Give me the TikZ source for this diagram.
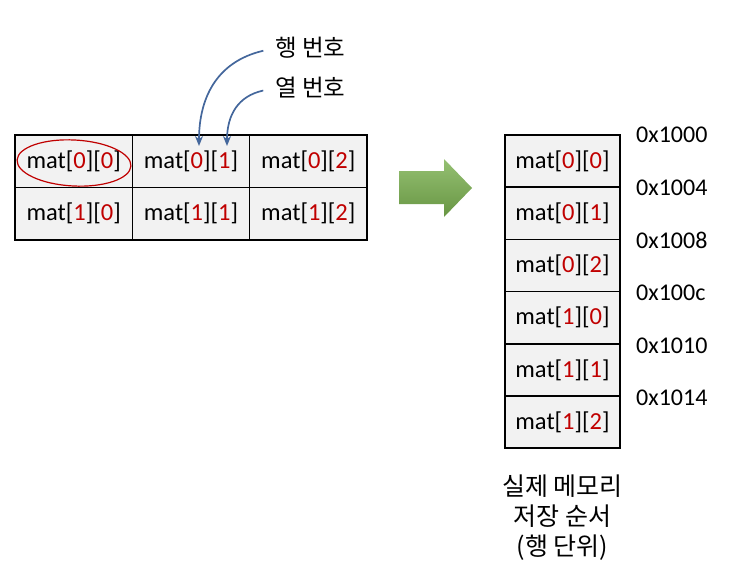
\documentclass[tikz,border=0pt]{standalone}
\usepackage{fontspec}
\setmainfont{Carlito}
\newfontfamily\kr{Noto Sans CJK KR}
\usetikzlibrary{arrows.meta,positioning}
\definecolor{idxred}{HTML}{C00000}
\definecolor{cellgray}{HTML}{F2F2F2}
\definecolor{ptrblue}{HTML}{44679C}
\definecolor{arrgreen}{HTML}{7AB04F}
\newcommand{\matcell}[2]{mat[\textcolor{idxred}{#1}][\textcolor{idxred}{#2}]}
\tikzset{
  cell/.style={draw=black, line width=1.5pt, fill=cellgray, minimum width=117.3pt,
    minimum height=52.5pt, inner sep=0pt, font=\fontsize{24.5}{28}\selectfont},
  memcell/.style={cell, minimum width=115pt, minimum height=52.2pt},
  addr/.style={anchor=west, inner sep=0pt, font=\fontsize{24}{28}\selectfont},
  lbl/.style={anchor=west, inner sep=0pt, font=\kr\fontsize{23.5}{27}\selectfont},
  ptr/.style={ptrblue, line width=1.7pt, shorten <=12pt, -{Stealth[length=10pt,width=8pt]}}
}
\begin{document}
\begin{tikzpicture}[x=1pt, y=-1pt]
  \useasboundingbox (0,0) rectangle (736,578);

  % 2D array
  \foreach \r in {0,1} {
    \foreach \c in {0,1,2} {
      \node[cell] (m\r\c) at ({73.7+117.3*\c}, {161.3+52.5*\r}) {\matcell{\r}{\c}};
    }
  }

  % Circle around first element
  \draw[idxred, line width=1.2pt, rotate around={-3:(74,163)}] (74,163) ellipse (57pt and 23pt);

  % Row / column labels
  \node[lbl] (rowlbl) at (275,48) {행 번호};
  \node[lbl] (collbl) at (275,88) {열 번호};
  \coordinate (rowtip) at (199,146);
  \coordinate (coltip) at (227,146);
  \draw[ptr] (rowlbl.west) .. controls (215,62) and (199,100) .. (rowtip);
  \draw[ptr] (collbl.west) .. controls (238,96) and (227,115) .. (coltip);

  % Green arrow
  \shade[top color=arrgreen!80!white, bottom color=arrgreen!85!black]
    (399,171) -- (444,171) -- (444,159) -- (472,188) -- (444,217) -- (444,204) -- (399,204) -- cycle;

  % Memory layout
  \foreach \i/\r/\c in {0/0/0, 1/0/1, 2/0/2, 3/1/0, 4/1/1, 5/1/2} {
    \node[memcell] (k\i) at (562.5, {161.1+52.2*\i}) {\matcell{\r}{\c}};
  }

  % Addresses
  \foreach \i/\a in {0/1000, 1/1004, 2/1008, 3/100c, 4/1010, 5/1014} {
    \node[addr] (a\i) at (636, {135+52.6*\i}) {0x\a};
  }

  % Caption
  \node[align=center, font=\kr\fontsize{25}{30}\selectfont, below=22pt of k5] (caption)
    {실제 메모리\\저장 순서\\(행 단위)};
\end{tikzpicture}
\end{document}
